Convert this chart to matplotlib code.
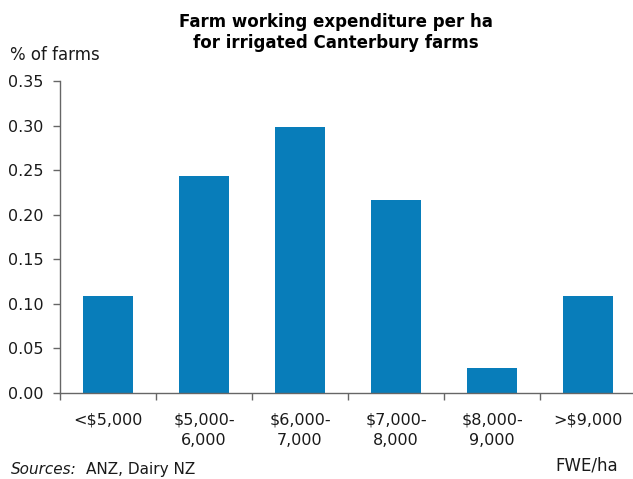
import numpy as np
import matplotlib.pyplot as plt
from matplotlib.ticker import MultipleLocator, FixedLocator

# share of farms in each farm working expenditure band
bands = ["<$5,000", "$5,000-\n6,000", "$6,000-\n7,000", "$7,000-\n8,000", "$8,000-\n9,000", ">$9,000"]
share = [0.109, 0.244, 0.299, 0.216, 0.028, 0.109]

title_lines = ["Farm working expenditure per ha", "for irrigated Canterbury farms"]

bar_color = "#087dba"
axis_color = "#666666"
text_color = "#1a1a1a"

fig = plt.figure(figsize=(6.33, 4.79), dpi=100)
ax = fig.add_axes([0.0948, 0.1802, 0.9100, 0.6503])

x = np.arange(len(bands))
ax.bar(x, share, width=0.52, color=bar_color)

ax.set_xlim(-0.5, len(bands) - 0.5)
ax.set_ylim(0, 0.35)
ax.yaxis.set_major_locator(MultipleLocator(0.05))
ax.yaxis.set_major_formatter(plt.FuncFormatter(lambda v, p: f"{v:.2f}"))

# labels sit under the bars, tick marks sit between them
ax.set_xticks(x)
ax.set_xticklabels(bands, linespacing=1.5)
ax.xaxis.set_minor_locator(FixedLocator(np.arange(-0.5, len(bands), 1.0)))
ax.tick_params(axis="x", which="major", length=0, pad=14, labelsize=11.5, colors=text_color)
ax.tick_params(axis="x", which="minor", length=5, width=1, color=axis_color, direction="out")
ax.tick_params(axis="y", length=5, width=1, color=axis_color, pad=7, labelsize=11.5, labelcolor=text_color)

for side in ["top", "right"]:
    ax.spines[side].set_visible(False)
for side in ["left", "bottom"]:
    ax.spines[side].set_color(axis_color)
    ax.spines[side].set_linewidth(1)

# two-line title, centred over the plot area
fig.text(0.531, 0.955, title_lines[0], ha="center", va="center",
         fontsize=12, fontweight="bold", color="black")
fig.text(0.531, 0.910, title_lines[1], ha="center", va="center",
         fontsize=12, fontweight="bold", color="black")

fig.text(0.016, 0.885, "% of farms", ha="left", va="center", fontsize=12,
         color=text_color)

fig.text(0.018, 0.019, "Sources:", ha="left", va="center", fontsize=11,
         style="italic", color=text_color)
fig.text(0.136, 0.019, "ANZ, Dairy NZ", ha="left", va="center", fontsize=11,
         color=text_color)
fig.text(0.877, 0.029, "FWE/ha", ha="left", va="center", fontsize=12,
         color=text_color)

fig.savefig("out.png", dpi=100)
